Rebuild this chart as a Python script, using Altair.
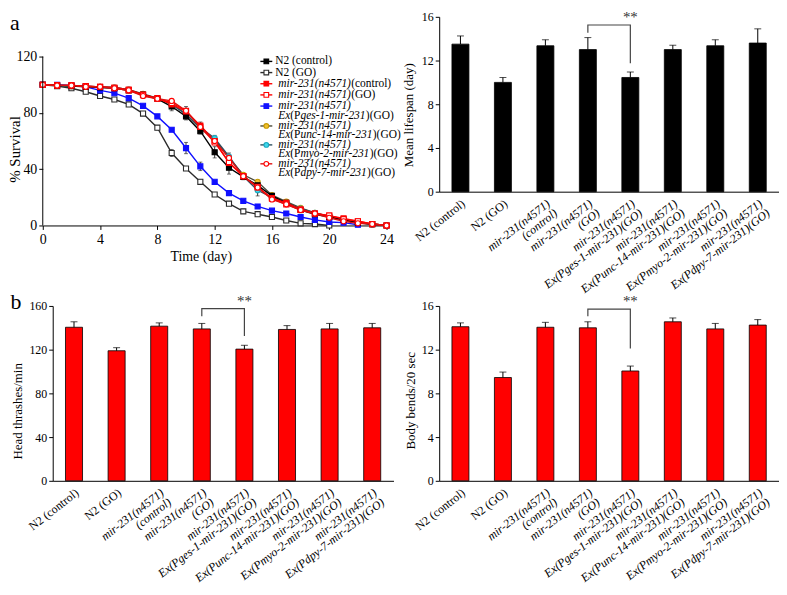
import altair as alt
import pandas as pd

FONT = "Liberation Serif"

# ---------------- panel a (left): survival curves ----------------
days = list(range(25))
n2_control = [100, 99.5, 99, 98.5, 98, 97.5, 96, 93, 90, 84.5, 77.5, 67, 52, 41, 34.5, 28.5, 21, 16, 11, 8, 6, 4, 2, 1, 0]
n2_go = [100, 99, 97.5, 95, 92, 89.5, 86, 79.5, 69.5, 51.5, 40.5, 31, 22, 15.5, 10, 8, 6, 3.5, 1.5, 1, 0, None, None, None, None]
mir_control = [100, 99.5, 99.5, 99, 98.5, 98, 96.5, 93, 90.5, 86, 81, 71, 60, 44.5, 35, 27, 19.5, 16, 11.5, 8.5, 7, 5, 3, 1, 0]
mir_go = [100, 99.5, 99.5, 99, 98.5, 97.5, 96, 92.5, 90, 87, 81.5, 70, 59, 45, 35, 27.5, 19, 15, 11, 8.5, 7, 4.5, 3, 1, 0]
pges = [100, 100, 99.5, 98.5, 96, 94, 90.5, 85, 77.5, 68, 55, 42, 31, 23, 17.5, 13.5, 10.5, 8.5, 6, 4, 2.5, 2, 0.5, None, None]
punc = [100, 99.5, 99, 99, 98.5, 98, 96.5, 93.5, 90.5, 86.5, 79, 69, 61, 48, 36, 31, 21.5, 17, 12.5, 9, 6.5, 4, 2, 1, 0]
pmyo = [100, 99.5, 99.5, 99, 98.5, 98, 96.5, 93, 90.5, 86, 79, 69.5, 62, 49, 35, 25, 20, 16, 12, 9, 6, 4, 2, 0.5, 0]
pdpy = [100, 99.5, 99.5, 98.5, 98.5, 97.5, 96, 92, 90, 88.5, 81.5, 70, 60, 48, 35, 27, 18.5, 15, 11, 8.5, 5.5, 3, 1.5, 1, 0]

n2_control_err = [0, 0, 0, 0, 0, 0, 0, 1, 1, 3, 2.5, 2, 4, 4.5, 2, 2, 1.5, 2, 2, 1, 0, 0, 0, 0, 0]
n2_go_err = [0, 0, 0, 0, 0, 0, 0, 1, 1.5, 2.5, 1, 1.5, 1, 1, 1.5, 1, 1, 1, 0, 0, 0, 0, 0, 0, 0]
mir_control_err = [0, 0, 0, 0, 0, 0, 0, 0, 0, 1, 3.5, 2.5, 2.5, 3, 1.5, 2, 1, 1, 1, 0, 0, 0, 0, 0, 0]
pges_err = [0, 0, 0, 0, 0, 0, 0, 0, 0, 1, 4, 3, 1, 1, 0, 0, 0, 0, 0, 0, 0, 0, 0, 0, 0]
pmyo_err = [0, 0, 0, 0, 0, 0, 0, 0, 0, 0, 0, 0, 2, 2.5, 2, 4, 2, 2, 1, 0, 0, 0, 0, 0, 0]
zero_err = [0] * 25

series_keys = ["n2g", "pges", "punc", "pmyo", "n2c", "mc", "mg", "pdpy"]
series_vals = {"n2c": n2_control, "n2g": n2_go, "mc": mir_control, "mg": mir_go,
               "pges": pges, "punc": punc, "pmyo": pmyo, "pdpy": pdpy}
series_err = {"n2c": n2_control_err, "n2g": n2_go_err, "mc": mir_control_err, "mg": zero_err,
              "pges": pges_err, "punc": zero_err, "pmyo": pmyo_err, "pdpy": zero_err}

# styles: line colour, marker fill, marker stroke, shape
STY = {
    "n2c": ("#000000", "#000000", "#000000", "square"),
    "n2g": ("#2b2b2b", "#ffffff", "#2b2b2b", "square"),
    "mc": ("#ff0000", "#ff0000", "#ff0000", "square"),
    "mg": ("#ff0000", "#ffffff", "#ff0000", "square"),
    "pges": ("#1010ff", "#1010ff", "#1010ff", "square"),
    "punc": ("#4a4a3a", "#f2c12e", "#c79a00", "circle"),
    "pmyo": ("#2f4f5f", "#3fd8ec", "#1aa8c0", "circle"),
    "pdpy": ("#e01010", "#ffffff", "#ff0000", "circle"),
}

rows = []
for k in series_keys:
    for d, v, e in zip(days, series_vals[k], series_err[k]):
        if v is None:
            continue
        lc, mf, ms, sh = STY[k]
        rows.append(dict(series=k, day=d, value=v, err=e, lo=max(v - e, 0), hi=v + e,
                         lc=lc, mfill=mf, mstroke=ms, shape=sh))
surv = pd.DataFrame(rows)
surv_err = surv[surv["err"] > 0]

W1, H1 = 346, 210
PX = 170 / 120.0            # pixels per % survival
YMAX = H1 / PX              # domain top so that 120 sits below the view top
TOP120 = H1 - 120 * PX      # pixel offset of the 120 level
DPX = W1 / 24.0             # pixels per day

xs = alt.Scale(domain=[0, 24], nice=False)
ys = alt.Scale(domain=[0, YMAX], nice=False)
ax_x = alt.Axis(values=list(range(0, 25, 2)), title="Time (day)", labelFontSize=14, titleFontSize=14,
                tickSize=4, labelPadding=3, titlePadding=3, titleX=159, labelOverlap=False,
                labelFlush=False)
ax_y = alt.Axis(values=list(range(0, 121, 20)), domain=False, title="% Survival", labelFontSize=14,
                titleFontSize=15, tickSize=4, labelPadding=2, titleX=-28, titleY=TOP120 + 93,
                titleBaseline="middle", titleAlign="center", titleAngle=-90, labelOverlap=False,
                labelFlush=False, labelExpr="datum.value > 120 ? '' : datum.label",
                tickOpacity={"condition": {"test": "datum.value > 120", "value": 0}, "value": 1})

base = alt.Chart(surv)
lines = base.mark_line(strokeWidth=1.4).encode(
    x=alt.X("day:Q", scale=xs, axis=ax_x), y=alt.Y("value:Q", scale=ys, axis=ax_y),
    color=alt.Color("lc:N", scale=None), detail="series:N")
err_rule = alt.Chart(surv_err).mark_rule(strokeWidth=1, color="#333").encode(
    x="day:Q", y="lo:Q", y2="hi:Q")
err_cap_hi = alt.Chart(surv_err).mark_tick(orient="horizontal", size=4, thickness=1, color="#333").encode(
    x="day:Q", y="hi:Q")
err_cap_lo = alt.Chart(surv_err).mark_tick(orient="horizontal", size=4, thickness=1, color="#333").encode(
    x="day:Q", y="lo:Q")
points = base.mark_point(filled=True, size=26, strokeWidth=1.1, opacity=1).encode(
    x="day:Q", y="value:Q",
    shape=alt.Shape("shape:N", scale=None),
    fill=alt.Fill("mfill:N", scale=None),
    stroke=alt.Stroke("mstroke:N", scale=None),
)
yline = alt.Chart(pd.DataFrame({"day": [0], "y0": [0], "y1": [120]})).mark_rule(
    color="black", strokeWidth=1).encode(x="day:Q", y="y0:Q", y2="y1:Q")

# ---- legend (drawn inside the plot, placed in the plot's own coordinates) ----
ROMAN = {" ": .25, "(": .333, ")": .333, "-": .333, "/": .278, "N": .722, "G": .722, "O": .722,
         "E": .611, "P": .556, "a": .444, "c": .444, "d": .5, "e": .444, "g": .5, "i": .278,
         "l": .278, "m": .778, "n": .5, "o": .5, "p": .5, "r": .333, "s": .389, "t": .278,
         "u": .5, "y": .5, "x": .5}
ITALIC = {"(": .333, ")": .333, "-": .333, "E": .611, "P": .611, "x": .444, "a": .5, "c": .444,
          "d": .5, "e": .444, "g": .5, "i": .278, "m": .722, "n": .5, "o": .5, "p": .5, "r": .389,
          "s": .389, "u": .5, "y": .444}
LFS = 11.5


def tw(text, st):
    tab = ROMAN if st == "n" else ITALIC
    return sum(tab.get(c, 0.5) for c in text) * LFS


MIR = ("mir-231(n4571)", "i")
legend_keys = ["n2c", "n2g", "mc", "mg", "pges", "punc", "pmyo", "pdpy"]
legend_lines = [
    [[("N2 (control)", "n")]],
    [[("N2 (GO)", "n")]],
    [[MIR, ("(control)", "n")]],
    [[MIR, ("(GO)", "n")]],
    [[MIR], [("Ex", "i"), ("(P", "n"), ("ges-1-mir-231", "i"), (")(GO)", "n")]],
    [[MIR], [("Ex", "i"), ("(P", "n"), ("unc-14-mir-231", "i"), (")(GO)", "n")]],
    [[MIR], [("Ex", "i"), ("(P", "n"), ("myo-2-mir-231", "i"), (")(GO)", "n")]],
    [[MIR], [("Ex", "i"), ("(P", "n"), ("dpy-7-mir-231", "i"), (")(GO)", "n")]],
]
legend_row_y = [[5], [16.5], [28], [39.5], [51, 61], [71.5, 81], [91, 100.5], [110.5, 120]]
SYM_X1, SYM_X2, TXT_X = 219, 231, 234


def px2day(px):
    return px / DPX


def py2val(py):
    return (H1 - py) / PX


sym_rows, txt_rows = [], []
for k, lines_, ys_ in zip(legend_keys, legend_lines, legend_row_y):
    lc, mf, ms, sh = STY[k]
    yy = py2val(TOP120 + ys_[0] * 0.977)
    sym_rows.append(dict(x1=px2day(SYM_X1), x2=px2day(SYM_X2), xm=px2day((SYM_X1 + SYM_X2) / 2), y=yy,
                         lc=lc, mfill=mf, mstroke=ms, shape=sh))
    for segs, yv in zip(lines_, ys_):
        x = TXT_X + (3 if segs[0][1] == "i" else 0)
        for text, st in segs:
            txt_rows.append(dict(x=px2day(x), y=py2val(TOP120 + yv * 0.977), text=text, st=st))
            x += tw(text, st)
sym_df = pd.DataFrame(sym_rows)
txt_df = pd.DataFrame(txt_rows)

leg_line = alt.Chart(sym_df).mark_rule(strokeWidth=1.4).encode(
    x="x1:Q", x2="x2:Q", y="y:Q", color=alt.Color("lc:N", scale=None))
leg_pt = alt.Chart(sym_df).mark_point(filled=True, size=22, strokeWidth=1.1, opacity=1).encode(
    x="xm:Q", y="y:Q",
    shape=alt.Shape("shape:N", scale=None), fill=alt.Fill("mfill:N", scale=None),
    stroke=alt.Stroke("mstroke:N", scale=None))
leg_txt_n = alt.Chart(txt_df).transform_filter("datum.st == 'n'").mark_text(
    align="left", baseline="middle", font=FONT, fontSize=LFS, color="black").encode(
    x="x:Q", y="y:Q", text="text:N")
leg_txt_i = alt.Chart(txt_df).transform_filter("datum.st == 'i'").mark_text(
    align="left", baseline="middle", font=FONT, fontSize=LFS, fontStyle="italic", color="black").encode(
    x="x:Q", y="y:Q", text="text:N")
label_a = alt.Chart(pd.DataFrame({"t": ["a"]})).mark_text(
    font=FONT, fontSize=22, align="center", baseline="middle", color="black").encode(
    x=alt.value(-28), y=alt.value(6), text="t:N")

survival = alt.layer(lines, err_rule, err_cap_hi, err_cap_lo, points, yline,
                     leg_line, leg_pt, leg_txt_n, leg_txt_i, label_a).properties(width=W1, height=H1)

# ---------------- bar panels ----------------
groups = ["N2 (control)", "N2 (GO)", "mir-231(n4571)|(control)", "mir-231(n4571)|(GO)",
          "mir-231(n4571)|Ex(Pges-1-mir-231)(GO)", "mir-231(n4571)|Ex(Punc-14-mir-231)(GO)",
          "mir-231(n4571)|Ex(Pmyo-2-mir-231)(GO)", "mir-231(n4571)|Ex(Pdpy-7-mir-231)(GO)"]

lifespan = [13.5, 10.0, 13.35, 13.0, 10.45, 13.0, 13.35, 13.6]
lifespan_err = [0.75, 0.45, 0.55, 1.1, 0.5, 0.4, 0.55, 1.3]
head_thrashes = [140.5, 119, 141.5, 139, 120.5, 138.5, 139, 140]
head_thrashes_err = [5, 2.8, 3, 5, 3.5, 3.5, 5, 4]
body_bends = [14.1, 9.45, 14.05, 14.0, 10.05, 14.55, 13.9, 14.25]
body_bends_err = [0.35, 0.5, 0.45, 0.55, 0.45, 0.35, 0.5, 0.5]

# significance brackets: (top, left leg bottom, right leg bottom)
lifespan_sig = (15.25, 14.55, 11.75)
head_sig = (157.5, 150.5, 132.5)
body_sig = (15.7, 15.05, 12.1)
sig_pair = (groups[3], groups[4])

label_style = {"condition": {"test": "indexof(datum.value, 'mir') >= 0", "value": "italic"},
               "value": "normal"}


def bar_panel(vals, errs, sig, color, ytitle, ymax, ystep, width, height, off, title_x, title_y_frac,
              panel_label=None):
    df = pd.DataFrame({"g": groups, "v": vals, "hi": [a + b for a, b in zip(vals, errs)]})
    sc_args = dict(paddingInner=0.6, paddingOuter=0.3)
    if off:
        sc_args["range"] = [off, width]
    xsc = alt.Scale(**sc_args)
    ysc = alt.Scale(domain=[0, ymax], nice=False)
    xax = alt.Axis(title=None, labelAngle=-38, labelAlign="right", labelBaseline="top",
                   labelExpr="split(datum.label, '|')", ticks=False, labelPadding=6,
                   labelFontSize=12, labelLimit=400, labelOverlap=False, labelFlush=False,
                   labelLineHeight=12, labelFontStyle=label_style)
    yax_args = dict(values=list(range(0, int(ymax) + 1, ystep)), title=ytitle, tickSize=4,
                    labelFontSize=12, titleFontSize=13, labelPadding=2, titleX=title_x,
                    titleY=height * title_y_frac, titleBaseline="middle", titleAlign="center",
                    titleAngle=-90, labelOverlap=False)
    if off:
        yax_args["offset"] = -off
    yax = alt.Axis(**yax_args)
    bars = alt.Chart(df).mark_bar(color=color, stroke="black", strokeWidth=0.8).encode(
        x=alt.X("g:N", sort=groups, scale=xsc, axis=xax),
        y=alt.Y("v:Q", scale=ysc, axis=yax))
    erule = alt.Chart(df).mark_rule(color="black", strokeWidth=1).encode(
        x=alt.X("g:N", sort=groups), y="v:Q", y2="hi:Q")
    ecap = alt.Chart(df).mark_tick(orient="horizontal", size=7, thickness=1, color="black").encode(
        x=alt.X("g:N", sort=groups), y="hi:Q")
    top, lowl, lowr = sig
    bdf = pd.DataFrame({"g": [sig_pair[0], sig_pair[0], sig_pair[1], sig_pair[1]],
                        "v": [lowl, top, top, lowr], "o": [0, 1, 2, 3]})
    bracket = alt.Chart(bdf).mark_line(color="#444", strokeWidth=1.2).encode(
        x=alt.X("g:N", sort=groups), y="v:Q", order="o:Q")
    star = alt.Chart(pd.DataFrame({"g": [sig_pair[1]], "v": [top], "t": ["**"]})).mark_text(
        font=FONT, fontSize=15, baseline="middle", dy=-8, color="#333").encode(
        x=alt.X("g:N", sort=groups), y="v:Q", text="t:N")
    layers = [bars, erule, ecap, bracket, star]
    if panel_label:
        layers.append(alt.Chart(pd.DataFrame({"t": [panel_label]})).mark_text(
            font=FONT, fontSize=22, align="center", baseline="middle", color="black").encode(
            x=alt.value(-27), y=alt.value(-4), text="t:N"))
    return alt.layer(*layers).properties(width=width, height=height)


HB = 176
W2 = 342
lifespan_chart = bar_panel(lifespan, lifespan_err, lifespan_sig, "black", "Mean lifespan (day)",
                           16, 4, W2, HB, 0, -31, 0.56)
head_chart = bar_panel(head_thrashes, head_thrashes_err, head_sig, "#ff0000", "Head thrashes/min",
                       160, 40, 353, HB, 10, -35, 0.6, panel_label="b")
body_chart = bar_panel(body_bends, body_bends_err, body_sig, "#ff0000", "Body bends/20 sec",
                       16, 4, W2, HB, 0, -29, 0.54)

chart = alt.concat(survival, lifespan_chart, head_chart, body_chart, columns=2,
                   spacing={"row": 81, "column": 46}, bounds="flush").properties(
    padding=0
).configure_axis(
    labelFont=FONT, titleFont=FONT, labelColor="black", titleColor="black",
    domainColor="black", tickColor="black", grid=False, titleFontWeight="normal"
).configure_axisX(labelOverlap=False).configure_axisY(labelOverlap=False).configure_view(stroke=None)

chart.save("out.html", embed_options={"renderer": "svg", "actions": False})
